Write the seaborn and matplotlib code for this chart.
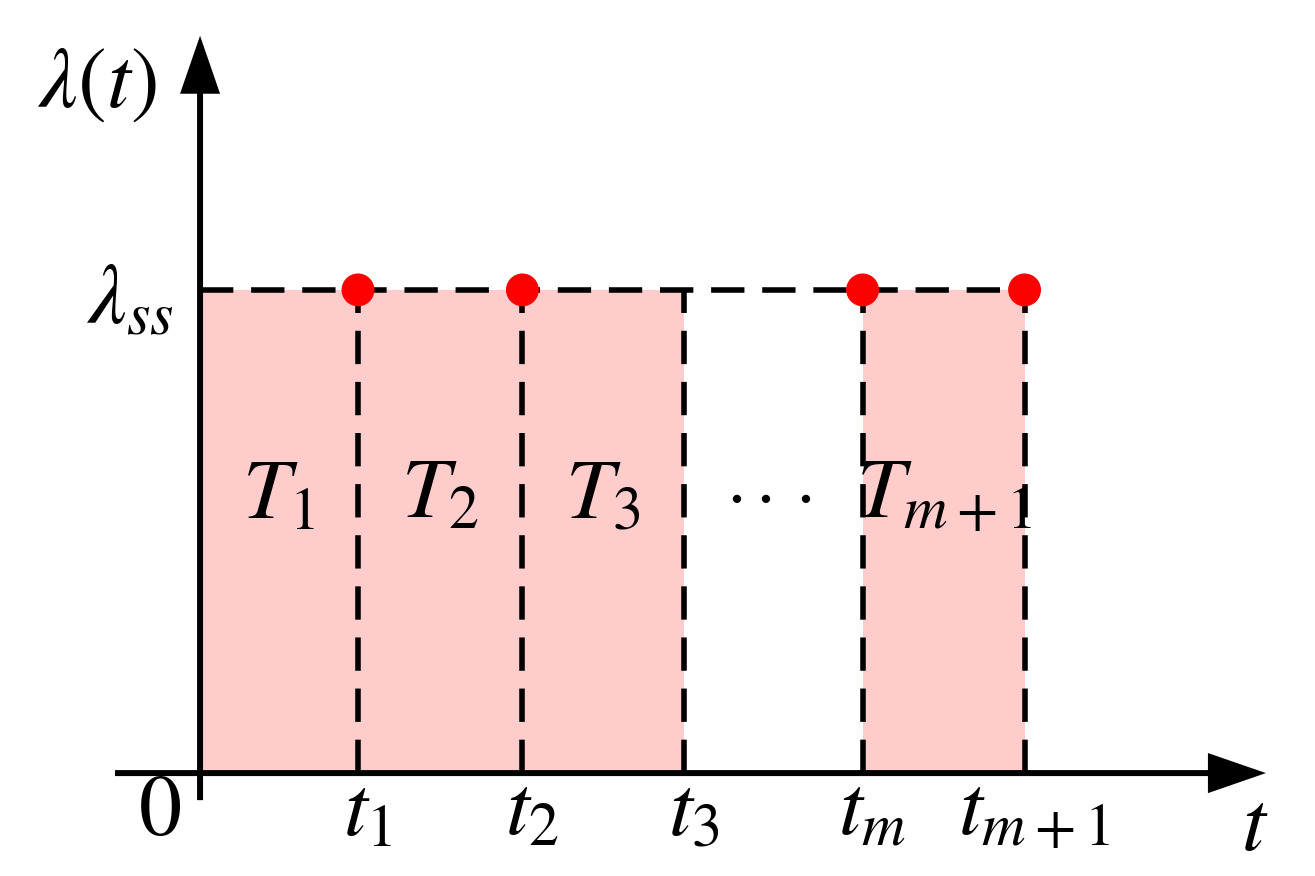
import matplotlib.pyplot as plt
import seaborn as sns

# Interval boundaries on the t axis: 0, t1, t2, t3, tm, tm+1
t_bounds = [0.0, 0.975, 1.99, 2.99, 4.09, 5.09]
t_labels = ['$0$', '$t_1$', '$t_2$', '$t_3$', '$t_m$', '$t_{m+1}$']
lam_ss = 1.0

# Shaded intervals (index pairs into t_bounds) and interval labels
shaded = [(0, 3), (4, 5)]
seg_labels = ['$T_1$', '$T_2$', '$T_3$', r'$\cdot\cdot\cdot$', '$T_{m+1}$']

# Boundaries marked with a red dot at lambda_ss
dot_t = [t_bounds[1], t_bounds[2], t_bounds[4], t_bounds[5]]

sns.set_style('white')
plt.rcParams['mathtext.fontset'] = 'stix'
plt.rcParams['font.family'] = ['STIXGeneral', 'DejaVu Sans']
plt.rcParams['text.color'] = 'black'

fig = plt.figure(figsize=(13.15, 8.76), dpi=100)
ax = fig.add_axes([0, 0, 1, 1])
ax.set_xlim(-1.235, 6.883)
ax.set_ylim(-0.213, 1.600)
ax.axis('off')

pink = '#FFCCCC'
dash = (0, (6.0, 3.2))
fs = 62

# pink areas
for a, b in shaded:
    ax.fill_between([t_bounds[a], t_bounds[b]], 0, lam_ss, color=pink, lw=0, zorder=1)

# dashed lines
ax.hlines(lam_ss, t_bounds[0], t_bounds[-1], colors='k', linestyles=dash, lw=4.0, zorder=2)
ax.vlines(t_bounds[1:], 0, lam_ss, colors='k', linestyles=dash, lw=4.0, zorder=2)

# axes with arrow heads
ax.arrow(-0.525, 0, 7.105, 0, width=0.0124, head_width=0.083, head_length=0.358,
         length_includes_head=True, color='k', lw=0, zorder=3)
ax.arrow(0, -0.056, 0, 1.582, width=0.037, head_width=0.247, head_length=0.12,
         length_includes_head=True, color='k', lw=0, zorder=3)

# red dots
sns.scatterplot(x=dot_t, y=[lam_ss] * len(dot_t), s=560, color='red',
                edgecolor='none', ax=ax, zorder=4)

# interval labels
for i, lab in enumerate(seg_labels):
    mid = (t_bounds[i] + t_bounds[i + 1]) / 2
    size = 50 if 'cdot' in lab else fs
    ax.text(mid - (0.03 if 'cdot' in lab else 0), 0.57, lab, fontsize=size,
            ha='center', va='center', color='black', zorder=5)

# tick labels under the t axis
for i, (t, lab) in enumerate(zip(t_bounds, t_labels)):
    x = t - 0.25 if i == 0 else t + 0.06
    ax.text(x, -0.128, lab, fontsize=fs, ha='center', va='baseline', color='black')

# axis names
ax.text(6.51, -0.159, '$t$', fontsize=fs, ha='center', va='baseline', color='black')
ax.text(-0.636, 1.379, r'$\lambda(t)$', fontsize=fs, ha='center', va='baseline', color='black')
ax.text(-0.43, 0.932, r'$\lambda_{ss}$', fontsize=fs, ha='center', va='baseline', color='black')

fig.savefig('out.png', dpi=100)
